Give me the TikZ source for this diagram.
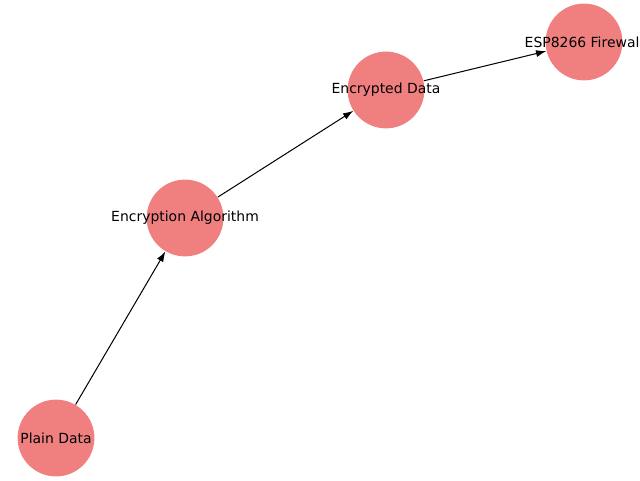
\documentclass[tikz,border=0pt]{standalone}
\usepackage{fontspec}
\setmainfont{DejaVu Sans}
\usetikzlibrary{arrows.meta}

\definecolor{nodecoral}{HTML}{F08080}

\begin{document}
\begin{tikzpicture}[
	vertex/.style={circle, fill=nodecoral, minimum size=1.2cm, inner sep=0pt,
		label={[font=\fontsize{6.2}{7}\selectfont, inner sep=0pt]center:#1}},
	edge/.style={-{Latex[length=1.6mm, width=1.1mm]}, line width=0.45pt, black}
	]
			\useasboundingbox (0,0) rectangle (10,7.5);
			\clip (0,0) rectangle (10,7.5);
			\node[vertex=Plain Data] (plain) at (0.875,0.656) {};
			\node[vertex=Encryption Algorithm] (algo) at (2.891,4.094) {};
			\node[vertex=Encrypted Data] (enc) at (6.031,6.094) {};
			\node[vertex=ESP8266 Firewall] (esp) at (9.125,6.844) {};
			\draw[edge] (plain) -- (algo);
			\draw[edge] (algo) -- (enc);
			\draw[edge] (enc) -- (esp);
			\end{tikzpicture}
\end{document}
